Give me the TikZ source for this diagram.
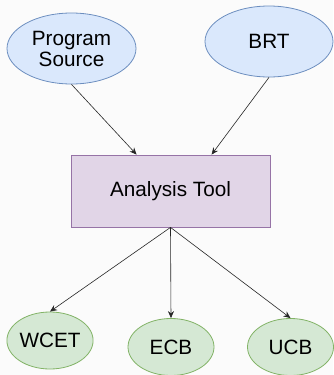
\documentclass[tikz,border=0pt]{standalone}
\usepackage{fontspec}
\setmainfont{Liberation Sans}
\usetikzlibrary{shapes.geometric,arrows.meta}
\definecolor{bgc}{HTML}{FBFBFB}
\definecolor{bluefill}{HTML}{DAE8FC}
\definecolor{bluedraw}{HTML}{6C8EBF}
\definecolor{purpfill}{HTML}{E1D5E7}
\definecolor{purpdraw}{HTML}{9673A6}
\definecolor{greenfill}{HTML}{D5E8D4}
\definecolor{greendraw}{HTML}{82B366}
\tikzset{
  x=1pt, y=-1pt,
  lbl/.style={font=\fontsize{20.7}{24}\selectfont, align=center},
  blueell/.style={ellipse, draw=bluedraw, fill=bluefill, line width=0.8pt, inner sep=0pt, lbl},
  greenell/.style={ellipse, draw=greendraw, fill=greenfill, line width=0.8pt, inner sep=0pt, lbl},
  toolbox/.style={rectangle, draw=purpdraw, fill=purpfill, line width=0.8pt, inner sep=0pt, lbl},
  conn/.style={draw=black!85, line width=0.6pt, -{Stealth[length=7pt,width=6pt]}}
}
\begin{document}
\begin{tikzpicture}
\fill[bgc] (0,0) rectangle (333,375);
\useasboundingbox (0,0) rectangle (333,375);
\node[blueell, minimum width=129pt, minimum height=71pt] (ps) at (71.5,48.5) {Program\\[-3pt]Source};
\node[blueell, minimum width=128pt, minimum height=71pt] (brt) at (269,41.5) {BRT};
\node[toolbox, minimum width=199pt, minimum height=72pt] (at) at (170.5,191) {Analysis Tool};
\node[greenell, minimum width=86pt, minimum height=57pt] (wcet) at (50,340.5) {WCET};
\node[greenell, minimum width=86pt, minimum height=57pt] (ecb) at (171,347) {ECB};
\node[greenell, minimum width=86pt, minimum height=57pt] (ucb) at (290.5,347) {UCB};
\coordinate (atl) at ([xshift=66pt]at.north west);
\coordinate (atr) at ([xshift=141pt]at.north west);
\coordinate (atb) at (at.south);
\draw[conn] (ps.south) -- (atl);
\draw[conn] (brt.south) -- (atr);
\draw[conn] (atb) -- (wcet.north);
\draw[conn] (atb) -- (ecb.north);
\draw[conn] (atb) -- (ucb.north);
\end{tikzpicture}
\end{document}
